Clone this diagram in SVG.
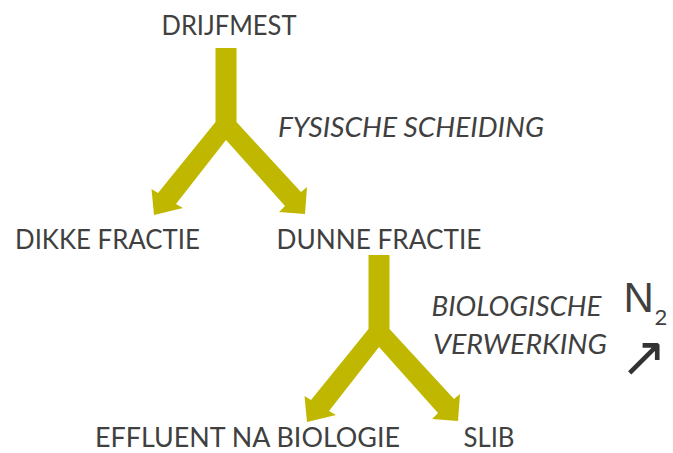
<svg xmlns="http://www.w3.org/2000/svg" xmlns:xlink="http://www.w3.org/1999/xlink" width="673" height="453" viewBox="0 0 673 453">
<style>
  .t { font-family: Lato, "Open Sans", "Liberation Sans", sans-serif; font-size: 27px; fill: #404040; }
  .i { font-style: italic; }
  .arrow { fill: #C0B800; }
</style>
<defs>
  <polygon id="split" class="arrow" points="215.5,48 236.5,48 236.5,122 301,192 307,187 305,214 279,212 285,206 226,140 176,204 183,208 154,215 151.5,189 158,193 215.5,122"/>
</defs>
<rect width="673" height="453" fill="#ffffff"/>
<g id="connectors">
  <use xlink:href="#split"/>
  <use xlink:href="#split" transform="translate(153,207)"/>
</g>
<g id="drijfmest"><text class="t" x="161.5" y="35" textLength="135" lengthAdjust="spacingAndGlyphs">DRIJFMEST</text></g>
<g id="label-fysisch"><text class="t i" x="278" y="137" textLength="266" lengthAdjust="spacingAndGlyphs">FYSISCHE SCHEIDING</text></g>
<g id="dikke-fractie"><text class="t" x="15" y="249" textLength="185" lengthAdjust="spacingAndGlyphs">DIKKE FRACTIE</text></g>
<g id="dunne-fractie"><text class="t" x="276.5" y="249" textLength="205" lengthAdjust="spacingAndGlyphs">DUNNE FRACTIE</text></g>
<g id="label-biologisch">
  <text class="t i" x="431.5" y="316" textLength="170" lengthAdjust="spacingAndGlyphs">BIOLOGISCHE</text>
  <text class="t i" x="433" y="354" textLength="174" lengthAdjust="spacingAndGlyphs">VERWERKING</text>
</g>
<g id="n2">
  <text class="t" x="623.5" y="312" style="font-size:42px; font-family:'Liberation Sans', sans-serif">N</text>
  <text class="t" x="654.5" y="325" style="font-size:22px">2</text>
  <text class="t" x="620" y="376" style="font-size:56px; font-family:'DejaVu Sans', sans-serif; fill:#333333">↗</text>
</g>
<g id="effluent"><text class="t" x="95" y="447" textLength="305" lengthAdjust="spacingAndGlyphs">EFFLUENT NA BIOLOGIE</text></g>
<g id="slib"><text class="t" x="463.5" y="447" textLength="51" lengthAdjust="spacingAndGlyphs">SLIB</text></g>
</svg>
